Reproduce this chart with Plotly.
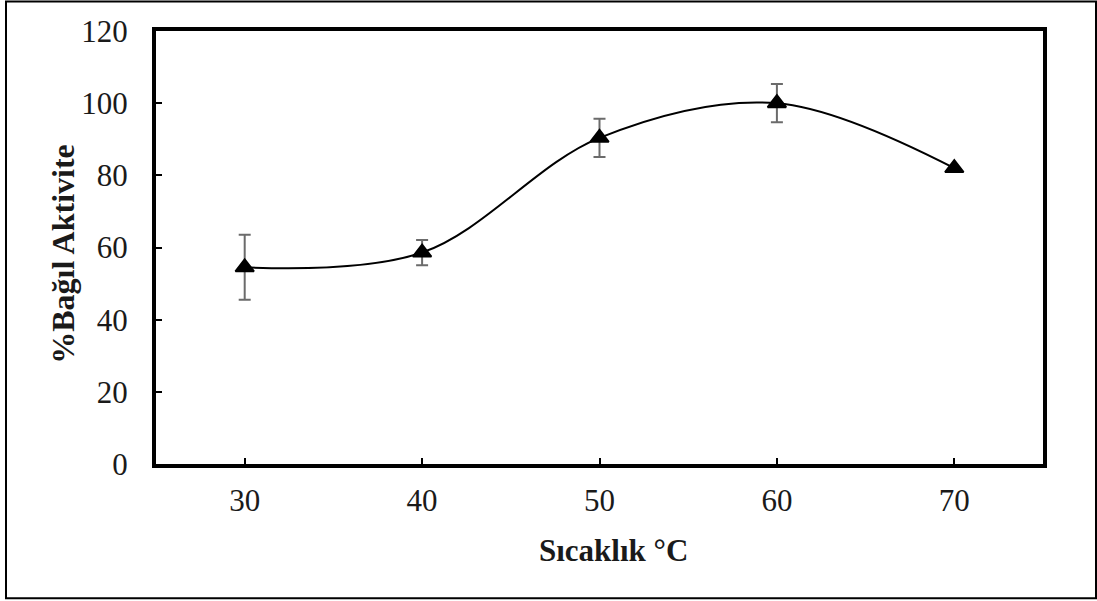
import plotly.graph_objects as go

temperatures = [30, 40, 50, 60, 70]
relative_activity = [54.5, 58.6, 90.4, 100.0, 82.0]
activity_error = [9.0, 3.5, 5.3, 5.3, None]
y_ticks = [0, 20, 40, 60, 80, 100, 120]
x_title = "Sıcaklık °C"
y_title = "%Bağıl Aktivite"

W, H = 1097, 601
L, R, T, B = 156, 1043, 31, 464.5

def px_x(x):
    return (x - L) / (R - L)

def px_y(y):
    return (B - y) / (B - T)

FONT = "Liberation Serif, Times New Roman, serif"
TXT = "#1a1a1a"

fig = go.Figure()
fig.add_trace(go.Scatter(
    x=temperatures, y=relative_activity,
    mode="lines+markers",
    line=dict(color="black", width=2, shape="spline", smoothing=1.0),
    marker=dict(symbol="triangle-up", size=16, color="black",
                line=dict(color="black", width=2)),
    error_y=dict(type="data", array=activity_error, visible=True,
                 color="#6b6b6b", thickness=2, width=6),
    showlegend=False,
))

fig.update_layout(
    width=W, height=H,
    margin=dict(l=L, r=W - R, t=T, b=H - B, pad=0),
    paper_bgcolor="white", plot_bgcolor="white",
    font=dict(family=FONT, size=31, color=TXT),
    xaxis=dict(range=[25, 75], tickvals=temperatures,
               ticks="inside", ticklen=6, tickwidth=2, tickcolor="black",
               ticklabelstandoff=6,
               showline=True, linewidth=4, linecolor="black", mirror=True,
               showgrid=False, zeroline=False,
               tickfont=dict(family=FONT, size=31, color=TXT)),
    yaxis=dict(range=[0, 120], tickvals=y_ticks,
               ticks="inside", ticklen=6, tickwidth=2, tickcolor="black",
               ticklabelstandoff=18,
               showline=True, linewidth=4, linecolor="black", mirror=True,
               showgrid=False, zeroline=False,
               tickfont=dict(family=FONT, size=31, color=TXT)),
    annotations=[
        dict(text="<b>" + x_title + "</b>", xref="paper", yref="paper",
             x=px_x(613), y=px_y(551), xanchor="center", yanchor="middle",
             showarrow=False, font=dict(family=FONT, size=31, color=TXT)),
        dict(text="<b>" + y_title + "</b>", xref="paper", yref="paper",
             x=px_x(63), y=px_y(254), xanchor="center", yanchor="middle",
             textangle=-90,
             showarrow=False, font=dict(family=FONT, size=32, color=TXT)),
    ],
    shapes=[
        dict(type="rect", xref="paper", yref="paper",
             x0=px_x(6), x1=px_x(1096), y0=px_y(599), y1=px_y(1.5),
             line=dict(color="black", width=2), fillcolor="rgba(0,0,0,0)",
             layer="below"),
    ],
)

fig.write_html(
    "out.html",
    config={"displayModeBar": False},
    post_script="document.body.style.margin='0px';document.body.style.overflow='hidden';",
)
